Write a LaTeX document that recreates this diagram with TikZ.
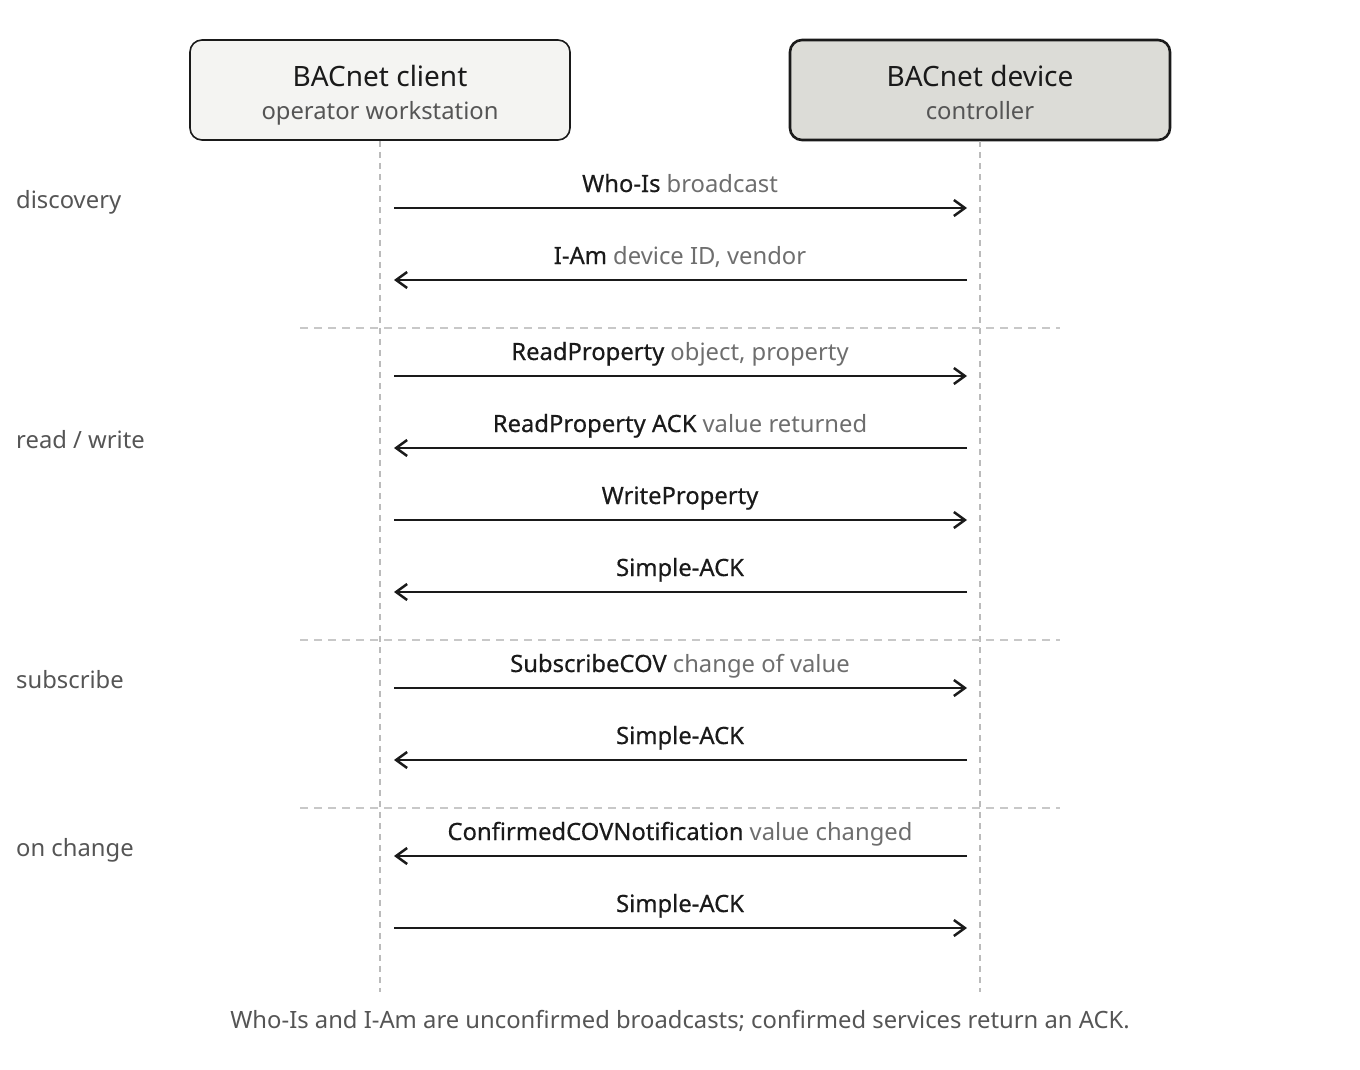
\documentclass[tikz,border=0pt]{standalone}
\usepackage{fontspec}
\setmainfont{Noto Sans}
\newfontfamily\medfont{Noto Sans}[FakeBold=0.5]
\usetikzlibrary{arrows.meta}
\definecolor{ink}{HTML}{1A1A1A}
\definecolor{sub}{HTML}{555555}
\definecolor{note}{HTML}{6E6E6E}
\definecolor{life}{HTML}{BBBBBB}
\definecolor{sep}{HTML}{C8C8C8}
\definecolor{clientfill}{HTML}{F4F4F2}
\definecolor{devfill}{HTML}{DCDCD7}
\newcommand{\mlabel}[2]{{\medfont\color{ink}#1}#2}
\begin{document}
\begin{tikzpicture}[x=1pt,y=-1pt,
  actor/.style={draw=ink,rounded corners=12pt,minimum width=380pt,minimum height=100pt,inner sep=0pt},
  ttl/.style={font=\fontsize{28}{32}\selectfont,text=ink,inner sep=0pt},
  stl/.style={font=\fontsize{23.8}{28}\selectfont,text=sub,inner sep=0pt},
  msg/.style={draw=ink,line width=2.7pt,-{Straight Barb[length=11pt,width=16pt,line width=2.5pt]}},
  lbl/.style={font=\fontsize{23.8}{28}\selectfont,text=note,inner sep=0pt,anchor=base},
  lifeline/.style={draw=life,line width=1.4pt,dash pattern=on 6pt off 5pt},
  sepline/.style={draw=sep,line width=1.4pt,dash pattern=on 8pt off 6pt},
  phase/.style={font=\fontsize{23.8}{28}\selectfont,text=sub,anchor=base west,inner sep=0pt},
]
\useasboundingbox (0,0) rectangle (1360,1070);
\node[actor,fill=clientfill,line width=1.6pt] (client) at (380,90) {};
\node[actor,fill=devfill,line width=2.6pt] (device) at (980,90) {};
\node[ttl,anchor=base] (ct) at (380,87) {BACnet client};
\node[stl,anchor=base] (cs) at (380,120) {operator workstation};
\node[ttl,anchor=base] (dt) at (980,87) {BACnet device};
\node[stl,anchor=base] (ds) at (980,120) {controller};
\coordinate (cl) at (380,992);
\coordinate (dl) at (980,992);
\draw[lifeline] (client.south) -- (cl);
\draw[lifeline] (device.south) -- (dl);
% separators
\foreach \y [count=\i] in {328,640,808}{
  \coordinate (sa\i) at (300,\y);
  \coordinate (sb\i) at (1060,\y);
  \draw[sepline] (sa\i) -- (sb\i);
}
% phases
\node[phase] (p1) at (16,208) {discovery};
\node[phase] (p2) at (16,448) {read / write};
\node[phase] (p3) at (16,688) {subscribe};
\node[phase] (p4) at (16,856) {on change};
% message endpoints
\foreach \y [count=\i] in {208,280,376,448,520,592,688,760,856,928}{
  \coordinate (L\i) at (394,\y);
  \coordinate (R\i) at (967,\y);
}
\draw[msg] (L1) -- (R1);
\draw[msg] (R2) -- (L2);
\draw[msg] (L3) -- (R3);
\draw[msg] (R4) -- (L4);
\draw[msg] (L5) -- (R5);
\draw[msg] (R6) -- (L6);
\draw[msg] (L7) -- (R7);
\draw[msg] (R8) -- (L8);
\draw[msg] (R9) -- (L9);
\draw[msg] (L10) -- (R10);
\node[lbl] (m1) at (680,192) {\mlabel{Who-Is}{ broadcast}};
\node[lbl] (m2) at (680,264) {\mlabel{I-Am}{ device ID, vendor}};
\node[lbl] (m3) at (680,360) {\mlabel{ReadProperty}{ object, property}};
\node[lbl] (m4) at (680,432) {\mlabel{ReadProperty ACK}{ value returned}};
\node[lbl] (m5) at (680,504) {\mlabel{WriteProperty}{}};
\node[lbl] (m6) at (680,576) {\mlabel{Simple-ACK}{}};
\node[lbl] (m7) at (680,672) {\mlabel{SubscribeCOV}{ change of value}};
\node[lbl] (m8) at (680,744) {\mlabel{Simple-ACK}{}};
\node[lbl] (m9) at (680,840) {\mlabel{ConfirmedCOVNotification}{ value changed}};
\node[lbl] (m10) at (680,912) {\mlabel{Simple-ACK}{}};
\node[font=\fontsize{23.8}{28}\selectfont,text=sub,anchor=base,inner sep=0pt] (foot) at (680,1028) {Who-Is and I-Am are unconfirmed broadcasts; confirmed services return an ACK.};
\end{tikzpicture}
\end{document}
